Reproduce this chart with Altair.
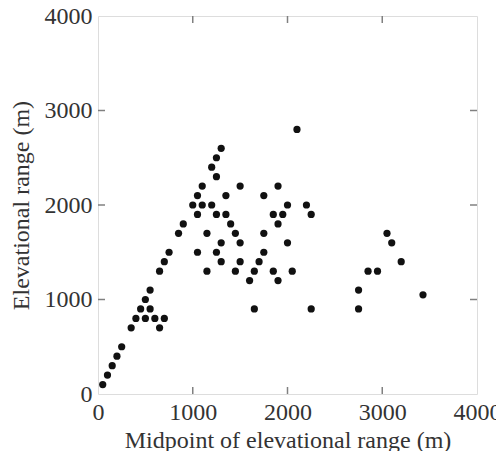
import altair as alt
import pandas as pd

# Midpoint of elevational range (m)
midpoint = [
    50, 100, 150, 200, 250, 350, 400, 450, 500, 550,
    500, 550, 600, 650, 700,
    650, 700, 750, 850, 900,
    1000, 1050, 1100, 1100, 1050, 1200, 1200, 1250, 1300, 1250,
    1250, 1350, 1350, 1150, 1050, 1250, 1300, 1300, 1150,
    1400, 1450, 1500, 1500, 1450, 1500,
    1600, 1650, 1650, 1700, 1750, 1750, 1750,
    1850, 1900, 1950, 1900, 2000, 2000, 1850, 1900, 2050,
    2100, 2200, 2250, 2250,
    2750, 2750, 2850, 2950, 3050, 3100, 3200, 3430,
]
# Elevational range (m)
elev_range = [
    100, 200, 300, 400, 500, 700, 800, 900, 1000, 1100,
    800, 900, 800, 700, 800,
    1300, 1400, 1500, 1700, 1800,
    2000, 2100, 2200, 2000, 1900, 2000, 2400, 2500, 2600, 2300,
    1900, 2100, 1900, 1700, 1500, 1500, 1600, 1400, 1300,
    1800, 1700, 1600, 2200, 1300, 1400,
    1200, 1300, 900, 1400, 1500, 1700, 2100,
    1900, 2200, 1900, 1800, 2000, 1600, 1300, 1200, 1300,
    2800, 2000, 1900, 900,
    1100, 900, 1300, 1300, 1700, 1600, 1400, 1050,
]
tick_values = [1000, 2000, 3000]
axis_values = [0, 1000, 2000, 3000, 4000]

W, H = 379, 378
FONT = "Liberation Serif"
TICK_LEN = 7
GRAY = "#808080"

pts = pd.DataFrame({"mid": midpoint, "rng": elev_range})
ticks = pd.DataFrame({"v": tick_values})

xscale = alt.Scale(domain=[0, 4000], nice=False, zero=False)
yscale = alt.Scale(domain=[0, 4000], nice=False, zero=False)

common_axis = dict(values=axis_values, format="d", domain=False, ticks=False, grid=False,
                   labelFontSize=24, labelFont=FONT, labelColor="#333333",
                   titleFont=FONT, titleFontSize=24, titleFontWeight="normal",
                   titleColor="#333333", labelFlush=False, labelOverlap=False)

points = alt.Chart(pts).mark_circle(size=52, color="#111111", opacity=1).encode(
    x=alt.X("mid:Q", scale=xscale,
            axis=alt.Axis(title="Midpoint of elevational range (m)", labelPadding=6,
                          titlePadding=4, **common_axis)),
    y=alt.Y("rng:Q", scale=yscale,
            axis=alt.Axis(title="Elevational range (m)", labelPadding=6,
                          titlePadding=11, **common_axis)),
)

rule_kw = dict(color=GRAY, strokeWidth=1.5)
left = alt.Chart(ticks).mark_rule(**rule_kw).encode(
    y=alt.Y("v:Q", scale=yscale), x=alt.value(0), x2=alt.value(TICK_LEN))
right = alt.Chart(ticks).mark_rule(**rule_kw).encode(
    y=alt.Y("v:Q", scale=yscale), x=alt.value(W - TICK_LEN), x2=alt.value(W))
bottom = alt.Chart(ticks).mark_rule(**rule_kw).encode(
    x=alt.X("v:Q", scale=xscale), y=alt.value(H - TICK_LEN), y2=alt.value(H))
top = alt.Chart(ticks).mark_rule(**rule_kw).encode(
    x=alt.X("v:Q", scale=xscale), y=alt.value(0), y2=alt.value(TICK_LEN))

chart = alt.layer(points, left, right, bottom, top).properties(
    width=W, height=H,
    autosize=alt.AutoSizeParams(type="none"),
    padding={"left": 90, "top": 8, "right": 19, "bottom": 57},
).configure_view(stroke=GRAY, strokeWidth=2).configure(background="white")

chart.save("out.html", embed_options={"renderer": "svg", "actions": False})
